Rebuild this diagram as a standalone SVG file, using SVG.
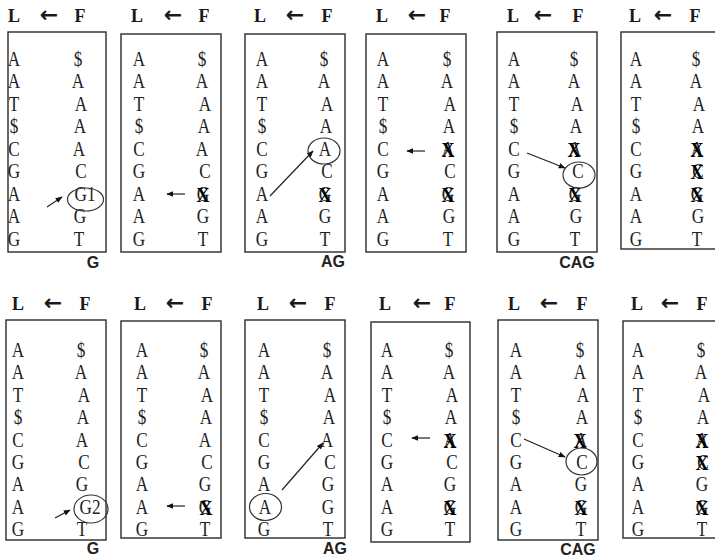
<svg xmlns="http://www.w3.org/2000/svg" width="715" height="559" viewBox="0 0 715 559">
<defs>
<style>
.b{fill:none;stroke:#2a2a2a;stroke-width:1.4}
.h{font-family:"Liberation Serif","DejaVu Serif",serif;font-weight:bold;font-size:18px;fill:#1a1a1a;text-anchor:middle}
.ha{font-family:"DejaVu Sans",sans-serif;font-weight:bold;font-size:22px;fill:#1a1a1a;text-anchor:middle}
.l text,.x{transform-box:fill-box;transform-origin:center;transform:scaleX(0.86)}
.l{font-family:"Liberation Serif","DejaVu Serif",serif;font-size:20px;fill:#222;text-anchor:middle}
.x{font-family:"Liberation Serif","DejaVu Serif",serif;font-weight:bold;font-size:21px;fill:#000;text-anchor:middle}
.c{fill:none;stroke:#333;stroke-width:1.2}
.lab{font-family:"Liberation Sans","DejaVu Sans",sans-serif;font-weight:bold;font-size:16px;fill:#222;text-anchor:middle}
.ar{stroke:#222;stroke-width:1.2;fill:none;marker-end:url(#ah)}
</style>
<marker id="ah" viewBox="0 0 10 10" refX="9" refY="5" markerWidth="7" markerHeight="7" markerUnits="userSpaceOnUse" orient="auto">
<path d="M0,1 L10,5 L0,9 Z" fill="#111"/>
</marker>
</defs>
<rect width="715" height="559" fill="#fff"/>

<!-- TOP ROW -->
<g id="t1">
<text class="h" x="14" y="22">L</text><text class="ha" x="49" y="22">←</text><text class="h" x="80" y="22">F</text>
<rect class="b" x="8" y="32" width="98" height="220"/>
<g class="l">
<text x="14" y="66">A</text><text x="14" y="88.5">A</text><text x="14" y="111">T</text><text x="14" y="133.5">$</text><text x="14" y="156">C</text><text x="14" y="178.5">G</text><text x="14" y="201">A</text><text x="14" y="223.5">A</text><text x="14" y="246">G</text>
<text x="78" y="66">$</text><text x="78" y="88.5">A</text><text x="81" y="111">A</text><text x="80" y="133.5">A</text><text x="79" y="156">A</text><text x="81" y="178.5">C</text><text x="85" y="201">G1</text><text x="80" y="223.5">G</text><text x="79" y="246">T</text>
</g>
<ellipse class="c" cx="85.5" cy="199.5" rx="18" ry="11.5"/>
<text class="lab" x="93" y="268">G</text>
</g>

<g id="t2">
<text class="h" x="137" y="22">L</text><text class="ha" x="173" y="22">←</text><text class="h" x="204" y="22">F</text>
<rect class="b" x="121" y="34" width="100" height="218"/>
<g class="l">
<text x="139" y="66">A</text><text x="139" y="88.5">A</text><text x="139" y="111">T</text><text x="139" y="133.5">$</text><text x="139" y="156">C</text><text x="139" y="178.5">G</text><text x="139" y="201">A</text><text x="139" y="223.5">A</text><text x="139" y="246">G</text>
<text x="202" y="66">$</text><text x="202" y="88.5">A</text><text x="205" y="111">A</text><text x="204" y="133.5">A</text><text x="202" y="156">A</text><text x="205" y="178.5">C</text><text x="203" y="201">G</text><text x="203" y="223.5">G</text><text x="203" y="246">T</text>
</g>
<text class="x" x="203" y="202">X</text>
</g>

<g id="t3">
<text class="h" x="260" y="22">L</text><text class="ha" x="295" y="22">←</text><text class="h" x="327" y="22">F</text>
<rect class="b" x="245" y="34" width="100" height="218"/>
<g class="l">
<text x="262" y="66">A</text><text x="262" y="88.5">A</text><text x="262" y="111">T</text><text x="262" y="133.5">$</text><text x="262" y="156">C</text><text x="262" y="178.5">G</text><text x="262" y="201">A</text><text x="262" y="223.5">A</text><text x="262" y="246">G</text>
<text x="324" y="66">$</text><text x="324" y="88.5">A</text><text x="327" y="111">A</text><text x="326" y="133.5">A</text><text x="325" y="156">A</text><text x="327" y="178.5">C</text><text x="325" y="201">G</text><text x="325" y="223.5">G</text><text x="325" y="246">T</text>
</g>
<text class="x" x="325" y="202">X</text>
<ellipse class="c" cx="324" cy="151" rx="16" ry="13"/>
<text class="lab" x="333" y="267">AG</text>
</g>

<g id="t4">
<text class="h" x="382" y="22">L</text><text class="ha" x="417" y="22">←</text><text class="h" x="445" y="22">F</text>
<rect class="b" x="366" y="34" width="100" height="218"/>
<g class="l">
<text x="383" y="66">A</text><text x="383" y="88.5">A</text><text x="383" y="111">T</text><text x="383" y="133.5">$</text><text x="383" y="156">C</text><text x="383" y="178.5">G</text><text x="383" y="201">A</text><text x="383" y="223.5">A</text><text x="383" y="246">G</text>
<text x="447" y="66">$</text><text x="447" y="88.5">A</text><text x="450" y="111">A</text><text x="449" y="133.5">A</text><text x="448" y="156">A</text><text x="450" y="178.5">C</text><text x="448" y="201">G</text><text x="449" y="223.5">G</text><text x="448" y="246">T</text>
</g>
<text class="x" x="448" y="157">X</text><text class="x" x="448" y="202">X</text>
</g>

<g id="t5">
<text class="h" x="513" y="22">L</text><text class="ha" x="543" y="22">←</text><text class="h" x="578" y="22">F</text>
<rect class="b" x="497" y="32" width="100" height="220"/>
<g class="l">
<text x="514" y="66">A</text><text x="514" y="88.5">A</text><text x="514" y="111">T</text><text x="514" y="133.5">$</text><text x="514" y="156">C</text><text x="514" y="178.5">G</text><text x="514" y="201">A</text><text x="514" y="223.5">A</text><text x="514" y="246">G</text>
<text x="574" y="66">$</text><text x="574" y="88.5">A</text><text x="577" y="111">A</text><text x="576" y="133.5">A</text><text x="575" y="156">A</text><text x="578" y="178.5">C</text><text x="575" y="201">G</text><text x="576" y="223.5">G</text><text x="575" y="246">T</text>
</g>
<text class="x" x="574" y="157">X</text><text class="x" x="575" y="202">X</text>
<ellipse class="c" cx="579" cy="175" rx="16" ry="13"/>
<text class="lab" x="577" y="268">CAG</text>
</g>

<g id="t6">
<text class="h" x="635" y="22">L</text><text class="ha" x="663" y="22">←</text><text class="h" x="695" y="22">F</text>
<rect class="b" x="621" y="32" width="100" height="217"/>
<g class="l">
<text x="636" y="66">A</text><text x="636" y="88.5">A</text><text x="636" y="111">T</text><text x="636" y="133.5">$</text><text x="636" y="156">C</text><text x="636" y="178.5">G</text><text x="636" y="201">A</text><text x="636" y="223.5">A</text><text x="636" y="246">G</text>
<text x="696" y="66">$</text><text x="696" y="88.5">A</text><text x="699" y="111">A</text><text x="698" y="133.5">A</text><text x="697" y="156">A</text><text x="698" y="178.5">C</text><text x="697" y="201">G</text><text x="698" y="223.5">G</text><text x="697" y="246">T</text>
</g>
<text class="x" x="697" y="157">X</text><text class="x" x="697" y="179.5">X</text><text class="x" x="697" y="202">X</text>
</g>

<!-- BOTTOM ROW -->
<g id="b1">
<text class="h" x="18" y="310">L</text><text class="ha" x="53" y="310">←</text><text class="h" x="85" y="310">F</text>
<rect class="b" x="6" y="320" width="100" height="220"/>
<g class="l">
<text x="18" y="357">A</text><text x="18" y="379.4">A</text><text x="18" y="401.8">T</text><text x="18" y="424.2">$</text><text x="18" y="446.6">C</text><text x="18" y="469">G</text><text x="18" y="491.4">A</text><text x="18" y="513.8">A</text><text x="18" y="536">G</text>
<text x="81" y="357">$</text><text x="81" y="379.4">A</text><text x="84" y="401.8">A</text><text x="83" y="424.2">A</text><text x="82" y="446.6">A</text><text x="84" y="469">C</text><text x="82" y="491.4">G</text><text x="90" y="513.8">G2</text><text x="82" y="536">T</text>
</g>
<ellipse class="c" cx="91" cy="509" rx="17" ry="14"/>
<text class="lab" x="93" y="554">G</text>
</g>

<g id="b2">
<text class="h" x="140" y="310">L</text><text class="ha" x="175" y="310">←</text><text class="h" x="207" y="310">F</text>
<rect class="b" x="121" y="321" width="100" height="217"/>
<g class="l">
<text x="142" y="357">A</text><text x="142" y="379.4">A</text><text x="142" y="401.8">T</text><text x="142" y="424.2">$</text><text x="142" y="446.6">C</text><text x="142" y="469">G</text><text x="142" y="491.4">A</text><text x="142" y="513.8">A</text><text x="142" y="536">G</text>
<text x="204" y="357">$</text><text x="204" y="379.4">A</text><text x="207" y="401.8">A</text><text x="206" y="424.2">A</text><text x="205" y="446.6">A</text><text x="207" y="469">C</text><text x="205" y="491.4">G</text><text x="205" y="513.8">G</text><text x="205" y="536">T</text>
</g>
<text class="x" x="206" y="514.8">X</text>
</g>

<g id="b3">
<text class="h" x="263" y="310">L</text><text class="ha" x="298" y="310">←</text><text class="h" x="330" y="310">F</text>
<rect class="b" x="245" y="320" width="100" height="218"/>
<g class="l">
<text x="264" y="357">A</text><text x="264" y="379.4">A</text><text x="264" y="401.8">T</text><text x="264" y="424.2">$</text><text x="264" y="446.6">C</text><text x="264" y="469">G</text><text x="264" y="491.4">A</text><text x="265" y="513.8">A</text><text x="264" y="536">G</text>
<text x="327" y="357">$</text><text x="327" y="379.4">A</text><text x="330" y="401.8">A</text><text x="329" y="424.2">A</text><text x="327" y="446.6">A</text><text x="330" y="469">C</text><text x="328" y="491.4">G</text><text x="328" y="513.8">G</text><text x="328" y="536">T</text>
</g>
<ellipse class="c" cx="265.5" cy="507" rx="16" ry="13.5"/>
<text class="lab" x="335" y="554">AG</text>
</g>

<g id="b4">
<text class="h" x="385" y="310">L</text><text class="ha" x="422" y="310">←</text><text class="h" x="450" y="310">F</text>
<rect class="b" x="371" y="322" width="99" height="220"/>
<g class="l">
<text x="387" y="357">A</text><text x="387" y="379.4">A</text><text x="387" y="401.8">T</text><text x="387" y="424.2">$</text><text x="387" y="446.6">C</text><text x="387" y="469">G</text><text x="387" y="491.4">A</text><text x="387" y="513.8">A</text><text x="387" y="536">G</text>
<text x="449" y="357">$</text><text x="449" y="379.4">A</text><text x="452" y="401.8">A</text><text x="451" y="424.2">A</text><text x="450" y="446.6">A</text><text x="452" y="469">C</text><text x="450" y="491.4">G</text><text x="450" y="513.8">G</text><text x="450" y="536">T</text>
</g>
<text class="x" x="450" y="447.6">X</text><text class="x" x="450" y="514.8">X</text>
</g>

<g id="b5">
<text class="h" x="514" y="310">L</text><text class="ha" x="549" y="310">←</text><text class="h" x="582" y="310">F</text>
<rect class="b" x="498" y="320" width="100" height="220"/>
<g class="l">
<text x="516" y="357">A</text><text x="516" y="379.4">A</text><text x="516" y="401.8">T</text><text x="516" y="424.2">$</text><text x="516" y="446.6">C</text><text x="516" y="469">G</text><text x="516" y="491.4">A</text><text x="516" y="513.8">A</text><text x="516" y="536">G</text>
<text x="580" y="357">$</text><text x="580" y="379.4">A</text><text x="583" y="401.8">A</text><text x="582" y="424.2">A</text><text x="581" y="446.6">A</text><text x="582" y="469">C</text><text x="581" y="491.4">G</text><text x="581" y="513.8">G</text><text x="581" y="536">T</text>
</g>
<text class="x" x="580" y="447.6">X</text><text class="x" x="581" y="514.8">X</text>
<ellipse class="c" cx="581.5" cy="461.5" rx="15.5" ry="13.5"/>
<text class="lab" x="578" y="555">CAG</text>
</g>

<g id="b6">
<text class="h" x="637" y="310">L</text><text class="ha" x="670" y="310">←</text><text class="h" x="702" y="310">F</text>
<rect class="b" x="623" y="321" width="100" height="217"/>
<g class="l">
<text x="638" y="357">A</text><text x="638" y="379.4">A</text><text x="638" y="401.8">T</text><text x="638" y="424.2">$</text><text x="638" y="446.6">C</text><text x="638" y="469">G</text><text x="638" y="491.4">A</text><text x="638" y="513.8">A</text><text x="638" y="536">G</text>
<text x="701" y="357">$</text><text x="701" y="379.4">A</text><text x="704" y="401.8">A</text><text x="703" y="424.2">A</text><text x="702" y="446.6">A</text><text x="703" y="469">C</text><text x="702" y="491.4">G</text><text x="702" y="513.8">G</text><text x="702" y="536">T</text>
</g>
<text class="x" x="702" y="447.6">X</text><text class="x" x="702" y="470">X</text><text class="x" x="702" y="514.8">X</text>
</g>

<g id="connectors">
<line class="ar" x1="47" y1="207" x2="62" y2="197"/>
<line class="ar" x1="185" y1="194" x2="167" y2="194"/>
<line class="ar" x1="270" y1="196" x2="313" y2="151"/>
<line class="ar" x1="425" y1="151" x2="407" y2="151"/>
<line class="ar" x1="527" y1="153" x2="565" y2="168"/>
<line class="ar" x1="55" y1="518" x2="70" y2="510"/>
<line class="ar" x1="185" y1="506" x2="167" y2="506"/>
<line class="ar" x1="282" y1="490" x2="323" y2="443"/>
<line class="ar" x1="430" y1="438" x2="412" y2="438"/>
<line class="ar" x1="524" y1="439" x2="565" y2="457"/>
</g>
</svg>
